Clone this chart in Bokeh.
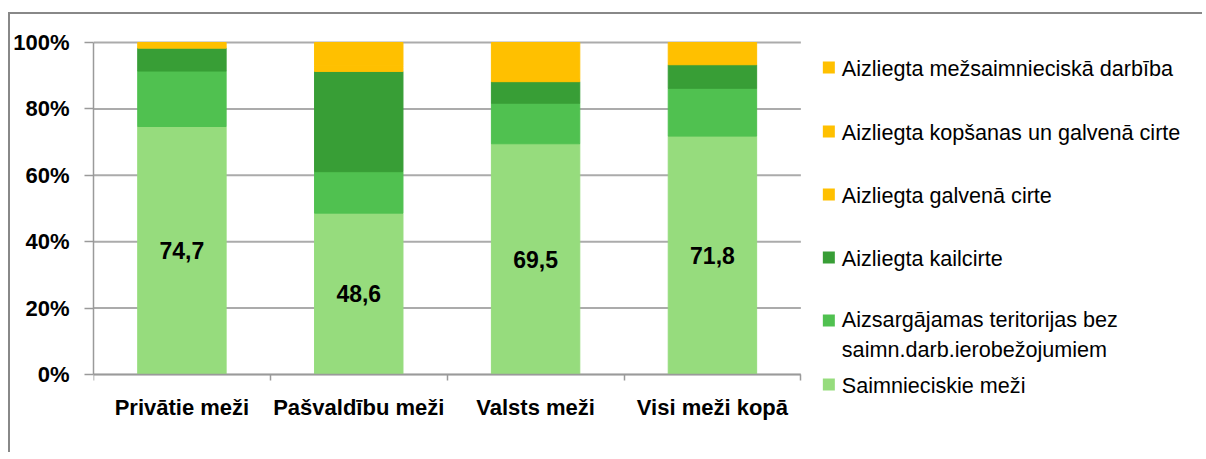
from bokeh.plotting import figure
from bokeh.models import Range1d, FixedTicker, ColumnDataSource, Spacer
from bokeh.layouts import column
from bokeh.core.properties import value
from bokeh.embed import file_html
from bokeh.resources import INLINE
import numpy as np

# ---------------- data ----------------
categories = ["Privātie meži", "Pašvaldību meži", "Valsts meži", "Visi meži kopā"]
saimnieciskie = [74.7, 48.6, 69.5, 71.8]
aizsargajamas = [16.7, 12.5, 12.2, 14.4]
kailcirte = [6.9, 30.2, 6.5, 7.1]
galvena_cirte = [0.3, 1.2, 0.4, 0.4]
kopsanas_galvena = [0.2, 0.5, 0.3, 0.3]
mezsaimn_darbiba = [1.2, 7.0, 11.1, 6.0]

series_names = [
    "Saimnieciskie meži",
    "Aizsargājamas teritorijas bez\nsaimn.darb.ierobežojumiem",
    "Aizliegta kailcirte",
    "Aizliegta galvenā cirte",
    "Aizliegta kopšanas un galvenā cirte",
    "Aizliegta mežsaimnieciskā darbība",
]
series_values = [saimnieciskie, aizsargajamas, kailcirte, galvena_cirte,
                 kopsanas_galvena, mezsaimn_darbiba]
colors = ["#96DC7D", "#50C150", "#389E36", "#FFC000", "#FFC000", "#FFC000"]

y_ticks = [0, 20, 40, 60, 80, 100]
y_tick_labels = ["0%", "20%", "40%", "60%", "80%", "100%"]

BOLD_FONT = "Liberation Sans"
REG_FONT = "Liberation Sans"
GRID = "#ababab"
AXIS = "#9a9a9a"
FRAME = "#888888"

# ---------------- layout geometry (page pixels) ----------------
CANVAS_L, CANVAS_T, CANVAS_W, CANVAS_H = 10, 14, 1194, 440
FRAME_L, FRAME_R, FRAME_T, FRAME_B = 92, 800, 42, 374   # where the 0..N / 0..100 box sits
N = len(categories)


def px_to_x(px):
    return (px - FRAME_L) / (FRAME_R - FRAME_L) * N


def py_to_y(py):
    return (FRAME_B - py) / (FRAME_B - FRAME_T) * 100.0


# ---------------- main chart ----------------
xpos = list(np.arange(N) + 0.5)
keys = ["s%d" % i for i in range(len(series_names))]
data = {"x": xpos}
for k, v in zip(keys, series_values):
    data[k] = v
source = ColumnDataSource(data)

p = figure(width=CANVAS_W, height=CANVAS_H,
           x_range=Range1d(px_to_x(FRAME_L), px_to_x(CANVAS_L + CANVAS_W)),
           y_range=Range1d(py_to_y(CANVAS_T + CANVAS_H), py_to_y(CANVAS_T)),
           output_backend="svg", toolbar_location=None,
           min_border_left=FRAME_L - CANVAS_L, min_border_right=0,
           min_border_top=0, min_border_bottom=0)
p.title.visible = False
p.styles = {"margin-left": "8px",
            "border-left": "2px solid %s" % FRAME,
            "border-top": "2px solid %s" % FRAME}
p.outline_line_color = None
p.background_fill_color = "white"
p.xgrid.grid_line_color = None
p.ygrid.grid_line_color = None

# horizontal gridlines at the y ticks, only across the category area
p.segment(x0=[0] * len(y_ticks), x1=[N] * len(y_ticks), y0=y_ticks, y1=y_ticks,
          line_color=GRID, line_width=2)

p.vbar_stack(keys, x="x", width=0.5, color=colors, source=source)

lbl = ColumnDataSource(dict(
    x=xpos,
    y=[v / 2 for v in saimnieciskie],
    t=[("%.1f" % v).replace(".", ",") for v in saimnieciskie],
))
p.text(x="x", y="y", text="t", source=lbl, text_align="center",
       text_baseline="middle", text_font=value(BOLD_FONT),
       text_font_style="bold", text_font_size="23px", text_color="black")

# x axis (fixed at y = 0)
xa = p.xaxis[0]
xa.fixed_location = 0
xa.bounds = (0, N)
xa.ticker = FixedTicker(ticks=xpos, minor_ticks=list(range(N + 1)))
xa.major_label_overrides = {float(x): c for x, c in zip(xpos, categories)}
xa.major_tick_out = 0
xa.major_tick_in = 0
xa.minor_tick_out = 6
xa.minor_tick_in = 0
xa.minor_tick_line_color = AXIS
xa.minor_tick_line_width = 1.5
xa.axis_line_color = AXIS
xa.axis_line_width = 1.5
xa.major_label_standoff = 14
xa.major_label_text_font = BOLD_FONT
xa.major_label_text_font_style = "bold"
xa.major_label_text_font_size = "22px"
xa.major_label_text_color = "black"

# y axis
ya = p.yaxis[0]
ya.bounds = (0, 100)
ya.ticker = FixedTicker(ticks=y_ticks, minor_ticks=[])
ya.major_label_overrides = {t: l for t, l in zip(y_ticks, y_tick_labels)}
ya.major_tick_out = 9
ya.major_tick_in = 0
ya.major_tick_line_color = AXIS
ya.major_tick_line_width = 1.5
ya.axis_line_color = AXIS
ya.axis_line_width = 1.5
ya.major_label_standoff = 15
ya.major_label_text_font = BOLD_FONT
ya.major_label_text_font_style = "bold"
ya.major_label_text_font_size = "22px"
ya.major_label_text_color = "black"

# ---------------- legend (drawn to the right of the bars) ----------------
leg_names = series_names[::-1]      # top-to-bottom = reverse stacking order
leg_colors = colors[::-1]
marker_py = [67, 131, 194, 257, 320, 384]   # legend row layout, page px
text_py = [68, 132, 195, 258, 334, 385]
SQ = 12
p.rect(x=[px_to_x(828)] * len(leg_names), y=[py_to_y(v) for v in marker_py],
       width=SQ, height=SQ, width_units="screen", height_units="screen",
       fill_color=leg_colors, line_color=None)
p.text(x=[px_to_x(841)] * len(leg_names), y=[py_to_y(v) for v in text_py],
       text=leg_names, text_align="left", text_baseline="middle",
       text_font=value(REG_FONT), text_font_size="21.6px", text_color="black",
       text_line_height=1.18)

layout = column(Spacer(height=12), p)
open("out.html", "w").write(file_html(layout, INLINE))
